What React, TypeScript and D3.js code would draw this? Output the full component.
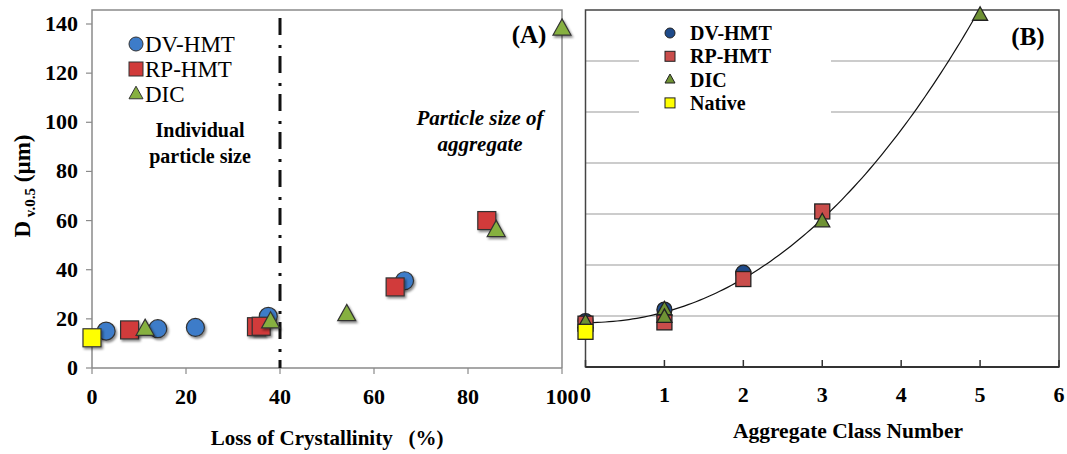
import React from 'react';
import * as d3 from 'd3';

// panel A: loss of crystallinity (%) vs D v0.5 (um)
const dvA = [[3, 15], [14, 16], [22, 16.5], [37.5, 21], [66.5, 35.5]];
const rpA = [[8, 15.5], [35, 16.8], [36, 17], [64.5, 33], [84, 60]];
const dicA = [[11.3, 15.8], [38, 18.8], [54.2, 21.8], [86, 56], [100, 138]];
const nativeA = [[0, 12.3]];

// panel B: aggregate class number vs D v0.5
const dvB = [[0, 18], [1, 22.5], [2, 37]];
const rpB = [[0, 17], [1, 17.5], [2, 34.5], [3, 61]];
const dicB = [[0, 17.5], [1, 22.5], [1, 19.5], [3, 57], [5, 138]];
const nativeB = [[0, 13.8]];

// excel-style polynomial trendline (y = c0 + c1 x + c2 x^2 + c3 x^3)
const trendCoef = [17.4, 0, 3.9, 0.206];

const xTicksA = [0, 20, 40, 60, 80, 100];
const yTicksA = [0, 20, 40, 60, 80, 100, 120, 140];
const xTicksB = [0, 1, 2, 3, 4, 5, 6];
const gridB = [20, 40, 60, 80, 100, 120];

const legendA = ['DV-HMT', 'RP-HMT', 'DIC'];
const legendB = ['DV-HMT', 'RP-HMT', 'DIC', 'Native'];

const colA = { dv: '#3d7cc9', rp: '#d13b3a', dic: '#86b03f', nat: '#ffff00' };
const colB = { dv: '#1f4b8a', rp: '#c94d4b', dic: '#6f9234', nat: '#ffff00' };

const FONT = '"Liberation Serif", "Times New Roman", serif';

type Shape = 'circle' | 'square' | 'triangle';

function Marker({ x, y, shape, size, fill, stroke = '#222', sw = 1.2, filter }: any) {
  const h = size / 2;
  if (shape === 'circle') return <circle cx={x} cy={y} r={h} fill={fill} stroke={stroke} strokeWidth={sw} filter={filter} />;
  if (shape === 'square') return <rect x={x - h} y={y - h} width={size} height={size} fill={fill} stroke={stroke} strokeWidth={sw} filter={filter} />;
  const th = size * 0.9;
  return (
    <path
      d={`M${x},${y - th * 0.62}L${x + h},${y + th * 0.38}L${x - h},${y + th * 0.38}Z`}
      fill={fill}
      stroke={stroke}
      strokeWidth={sw}
      filter={filter}
    />
  );
}

export default function App() {
  const W = 1067;
  const H = 454;

  const xA = d3.scaleLinear().domain([0, 100]).range([92, 562]);
  const yA = d3.scaleLinear().domain([0, 140]).range([368, 24]);
  const xB = d3.scaleLinear().domain([0, 6]).range([585.5, 1059]);
  const yB = d3.scaleLinear().domain([0, 140]).range([367, 10]);

  const trend = d3
    .line<number>()
    .x((d) => xB(d))
    .y((d) => yB(trendCoef[0] + trendCoef[1] * d + trendCoef[2] * d * d + trendCoef[3] * d * d * d));
  const trendXs = d3.range(0, 5.001, 0.05);

  const seriesA: [number[][], Shape, string][] = [
    [dvA, 'circle', colA.dv],
    [nativeA, 'square', colA.nat],
    [rpA, 'square', colA.rp],
    [dicA, 'triangle', colA.dic],
  ];
  const seriesB: [number[][], Shape, string][] = [
    [dvB, 'circle', colB.dv],
    [rpB, 'square', colB.rp],
    [dicB, 'triangle', colB.dic],
    [nativeB, 'square', colB.nat],
  ];
  const legShapesA: Shape[] = ['circle', 'square', 'triangle'];
  const legColsA = [colA.dv, colA.rp, colA.dic];
  const legShapesB: Shape[] = ['circle', 'square', 'triangle', 'square'];
  const legColsB = [colB.dv, colB.rp, colB.dic, colB.nat];

  return (
    <svg width={W} height={H} style={{ position: 'absolute', left: 0, top: 0, background: '#fff' }} fontFamily={FONT}>
      <defs>
        <filter id="sh" x="-50%" y="-50%" width="200%" height="200%">
          <feDropShadow dx="1.5" dy="2" stdDeviation="1.2" floodColor="#000" floodOpacity="0.45" />
        </filter>
      </defs>
      <rect width={W} height={H} fill="#fff" />

      {/* ---------- panel A ---------- */}
      <path d={`M${xA(0)},${yA(0)}V10H${xA(100)}V${yA(0)}`} fill="none" stroke="#8a8a8a" strokeWidth={1.5} />
      <line x1={xA(0)} x2={xA(100)} y1={yA(0)} y2={yA(0)} stroke="#8a8a8a" strokeWidth={1.5} />
      {yTicksA.map((t) => (
        <g key={'ya' + t}>
          <line x1={86} x2={xA(0)} y1={yA(t)} y2={yA(t)} stroke="#8a8a8a" strokeWidth={1.2} />
          <text x={78} y={yA(t) + 7} textAnchor="end" fontSize={22} fontWeight="bold">{t}</text>
        </g>
      ))}
      {xTicksA.map((t) => (
        <g key={'xa' + t}>
          <line x1={xA(t)} x2={xA(t)} y1={yA(0)} y2={yA(0) + 6} stroke="#8a8a8a" strokeWidth={1.2} />
          <text x={xA(t)} y={404} textAnchor="middle" fontSize={22} fontWeight="bold">{t}</text>
        </g>
      ))}
      <line x1={xA(40)} x2={xA(40)} y1={18} y2={yA(0)} stroke="#111" strokeWidth={3} strokeDasharray="17,10,3,8" />

      {seriesA.map(([pts, shape, fill], si) =>
        pts.map((p, i) => (
          <Marker key={`a${si}-${i}`} x={xA(p[0])} y={yA(p[1])} shape={shape} size={18} fill={fill} stroke="#333" filter="url(#sh)" />
        ))
      )}

      {legendA.map((l, i) => (
        <g key={'la' + i}>
          <Marker x={136} y={44 + i * 25} shape={legShapesA[i]} size={14} fill={legColsA[i]} stroke="#333" sw={1} />
          <text x={145} y={51.5 + i * 25} fontSize={23}>{l}</text>
        </g>
      ))}
      <text x={200} y={137} textAnchor="middle" fontSize={20} fontWeight="bold">Individual</text>
      <text x={200} y={163} textAnchor="middle" fontSize={20} fontWeight="bold">particle size</text>
      <text x={480} y={125} textAnchor="middle" fontSize={21} fontWeight="bold" fontStyle="italic">Particle size of</text>
      <text x={480} y={151} textAnchor="middle" fontSize={21} fontWeight="bold" fontStyle="italic">aggregate</text>
      <text x={529} y={43} textAnchor="middle" fontSize={25} fontWeight="bold">(A)</text>

      <text transform="translate(30,186) rotate(-90)" textAnchor="middle" fontSize={23} fontWeight="bold">
        D<tspan fontSize={15} dy={5}> v.0.5</tspan><tspan dy={-5}> (µm)</tspan>
      </text>
      <text x={327} y={445} textAnchor="middle" fontSize={21} fontWeight="bold" xmlSpace="preserve">Loss of Crystallinity   (%)</text>

      {/* ---------- panel B ---------- */}
      {gridB.map((g) => (
        <line key={'gb' + g} x1={xB(0)} x2={xB(6)} y1={yB(g)} y2={yB(g)} stroke="#9a9a9a" strokeWidth={1.2} />
      ))}
      <rect x={639} y={14} width={192} height={99.5} fill="#fff" />
      <rect x={xB(0)} y={yB(140)} width={xB(6) - xB(0)} height={yB(0) - yB(140)} fill="none" stroke="#444" strokeWidth={1.5} />
      <line x1={xB(0)} x2={xB(6)} y1={yB(0)} y2={yB(0)} stroke="#333" strokeWidth={2} />
      {xTicksB.map((t) => (
        <g key={'xb' + t}>
          <line x1={xB(t)} x2={xB(t)} y1={yB(0) - 7} y2={yB(0)} stroke="#333" strokeWidth={1.5} />
          <text x={xB(t)} y={402} textAnchor="middle" fontSize={22} fontWeight="bold">{t}</text>
        </g>
      ))}
      <path d={trend(trendXs) || ''} fill="none" stroke="#111" strokeWidth={1.2} />

      {seriesB.map(([pts, shape, fill], si) =>
        pts.map((p, i) => (
          <Marker key={`b${si}-${i}`} x={xB(p[0])} y={yB(p[1])} shape={shape} size={15} fill={fill} stroke="#222" sw={1.3} />
        ))
      )}

      {legendB.map((l, i) => (
        <g key={'lb' + i}>
          <Marker x={670} y={33 + i * 23.3} shape={legShapesB[i]} size={10} fill={legColsB[i]} stroke="#222" sw={1} />
          <text x={690} y={40 + i * 23.3} fontSize={20} fontWeight="bold">{l}</text>
        </g>
      ))}
      <text x={1028} y={45} textAnchor="middle" fontSize={25} fontWeight="bold">(B)</text>
      <text x={848} y={438} textAnchor="middle" fontSize={21.5} fontWeight="bold">Aggregate Class Number</text>
    </svg>
  );
}
